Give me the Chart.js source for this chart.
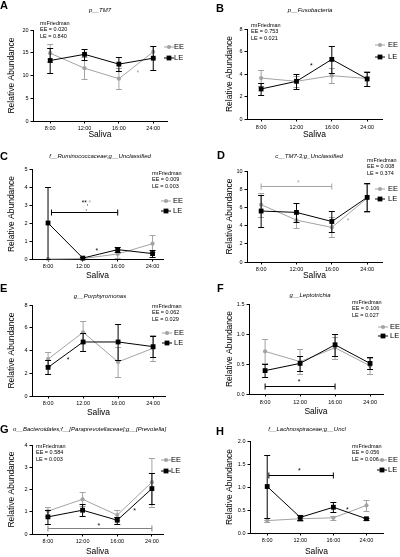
<!DOCTYPE html>
<html>
<head>
<meta charset="utf-8">
<script src="https://cdn.jsdelivr.net/npm/chart.js@4"></script>
<style>
body { margin: 0; background: #fff; width: 400px; height: 557px; overflow: hidden; position: relative; }
canvas { position: absolute; }
</style>
</head>
<body>
<canvas id="cA"></canvas>
<canvas id="cB"></canvas>
<canvas id="cC"></canvas>
<canvas id="cD"></canvas>
<canvas id="cE"></canvas>
<canvas id="cF"></canvas>
<canvas id="cG"></canvas>
<canvas id="cH"></canvas>
<script>
const times = ['8:00', '12:00', '16:00', '24:00'];

// A  p__TM7
const tm7EE = [14.9, 11.6, 9.3, 15.2];
const tm7EEErr = [2.0, 2.4, 2.3, 1.3];
const tm7LE = [13.3, 14.65, 12.5, 13.8];
const tm7LEErr = [2.8, 1.2, 1.6, 2.6];

// B  p__Fusobacteria
const fusoEE = [3.64, 3.35, 3.85, 3.6];
const fusoEEErr = [0.68, 0.5, 0.65, 0.64];
const fusoLE = [2.67, 3.35, 5.3, 3.56];
const fusoLEErr = [0.57, 0.68, 1.2, 0.65];

// C  Ruminococcaceae
const rumiEE = [0, 0.02, 0.28, 0.85];
const rumiEEErr = [0, 0.02, 0.22, 0.46];
const rumiLE = [2.0, 0.05, 0.52, 0.3];
const rumiLEErr = [1.98, 0.04, 0.15, 0.18];

// D  TM7-3
const tm73EE = [6.3, 4.6, 3.8, 7.0];
const tm73EEErr = [1.3, 0.9, 1.1, 1.55];
const tm73LE = [5.6, 5.45, 4.45, 7.1];
const tm73LEErr = [1.8, 1.0, 1.15, 1.55];

// E  Porphyromonas
const porpEE = [3.25, 5.6, 3.0, 4.2];
const porpEEErr = [0.6, 0.95, 1.3, 1.15];
const porpLE = [2.52, 4.75, 4.75, 4.34];
const porpLEErr = [0.62, 0.8, 1.6, 0.93];

// F  Leptotrichia
const leptEE = [0.71, 0.54, 0.77, 0.47];
const leptEEErr = [0.2, 0.21, 0.18, 0.13];
const leptLE = [0.39, 0.51, 0.82, 0.51];
const leptLEErr = [0.11, 0.13, 0.18, 0.1];

// G  Prevotella
const prevEE = [1.03, 1.56, 0.85, 2.33];
const prevEEErr = [0.2, 0.32, 0.23, 1.1];
const prevLE = [0.77, 1.07, 0.62, 2.04];
const prevLEErr = [0.31, 0.27, 0.15, 0.7];

// H  Lachnospiraceae
const lachEE = [0.27, 0.31, 0.33, 0.6];
const lachEEErr = [0.02, 0.04, 0.05, 0.12];
const lachLE = [1.01, 0.34, 0.56, 0.31];
const lachLEErr = [0.69, 0.06, 0.11, 0.02];

const GRAY = '#a3a3a3';
const FONT = 'Arial, "Liberation Sans", sans-serif';
Chart.defaults.font.family = FONT;
Chart.defaults.color = '#000';

const panels = [
  { id: 'cA', letter: 'A', title: 'p__TM7', ee: tm7EE, eeErr: tm7EEErr, le: tm7LE, leErr: tm7LEErr,
    pvals: ['0.020', '0.840'], yMax: 20, yStep: 5,
    box: [0, 0, 200, 140], axisX: 33, yTop: 30, yBot: 121, xEnd: 167, xMin: -0.5, xMax: 3.4, ytPad: 7, tickPad: 1.5,
    stats: [40, 23], legend: [169, 174, 47, 58], titlePos: [100, 10, 'center'], letterPos: [0, 6],
    stars: [[2.55, 11.1, GRAY]], brackets: [] },
  { id: 'cB', letter: 'B', title: 'p__Fusobacteria', ee: fusoEE, eeErr: fusoEEErr, le: fusoLE, leErr: fusoLEErr,
    pvals: ['0.753', '0.021'], yMax: 8, yStep: 2,
    box: [200, 0, 200, 140], axisX: 247, yTop: 29, yBot: 119, xEnd: 382, xMin: -0.4, xMax: 3.42, ytPad: 25, tickPad: 2.5,
    stats: [251, 25], legend: [380, 388, 45, 57], titlePos: [310, 10, 'center'], letterPos: [216, 9],
    stars: [[1.42, 4.9, '#000']], brackets: [] },
  { id: 'cC', letter: 'C', title: 'f__Ruminococcaceae;g__Unclassified', ee: rumiEE, eeErr: rumiEEErr, le: rumiLE, leErr: rumiLEErr,
    pvals: ['0.009', '0.003'], yMax: 5, yStep: 1,
    box: [0, 140, 200, 141], axisX: 32, yTop: 169, yBot: 259, xEnd: 163, xMin: -0.46, xMax: 3.3, ytPad: 7, tickPad: 2,
    stats: [152, 173], legend: [166, 173, 201, 211], titlePos: [100, 156, 'center'], letterPos: [0, 157],
    stars: [[1.4, 0.55, '#000']], brackets: [[0.1, 2.0, 2.6, '#000']], special: true },
  { id: 'cD', letter: 'D', title: 'c__TM7-3;g_Unclassified', ee: tm73EE, eeErr: tm73EEErr, le: tm73LE, leErr: tm73LEErr,
    pvals: ['0.008', '0.374'], yMax: 10, yStep: 2,
    box: [200, 140, 200, 141], axisX: 247, yTop: 171, yBot: 262, xEnd: 382, xMin: -0.4, xMax: 3.42, ytPad: 25, tickPad: 1.5,
    stats: [367, 160], legend: [380, 388, 189, 199], titlePos: [309, 156, 'center'], letterPos: [217, 156],
    stars: [[1.05, 8.9, GRAY], [2.46, 4.7, GRAY]], brackets: [[0, 2, 8.35, GRAY]] },
  { id: 'cE', letter: 'E', title: 'g__Porphyromonas', ee: porpEE, eeErr: porpEEErr, le: porpLE, leErr: porpLEErr,
    pvals: ['0.062', '0.029'], yMax: 8, yStep: 2,
    box: [0, 281, 200, 137], axisX: 32, yTop: 305, yBot: 396, xEnd: 165, xMin: -0.46, xMax: 3.34, ytPad: 7, tickPad: 2,
    stats: [152, 306], legend: [167, 174, 333, 343], titlePos: [100, 296, 'center'], letterPos: [0, 289],
    stars: [[0.57, 3.34, '#000']], brackets: [] },
  { id: 'cF', letter: 'F', title: 'g__Leptotrichia', ee: leptEE, eeErr: leptEEErr, le: leptLE, leErr: leptLEErr,
    pvals: ['0.106', '0.027'], yMax: 1.5, yStep: 0.5, dec: true,
    box: [200, 281, 200, 136], axisX: 249, yTop: 304, yBot: 394, xEnd: 383, xMin: -0.46, xMax: 3.37, ytPad: 25, tickPad: 2.5,
    stats: [352, 302], legend: [383, 390, 327, 336], titlePos: [310, 295, 'center'], letterPos: [217, 289],
    stars: [[0.97, 0.23, '#000']], brackets: [[0, 2, 0.13, '#000']] },
  { id: 'cG', letter: 'G', title: 'o__Bacteroidales;f__[Paraprevotellaceae];g__[Prevotella]', ee: prevEE, eeErr: prevEEErr, le: prevLE, leErr: prevLEErr,
    pvals: ['0.584', '0.003'], yMax: 4, yStep: 1,
    box: [0, 418, 200, 139], axisX: 32, yTop: 445, yBot: 534, xEnd: 163, xMin: -0.46, xMax: 3.32, ytPad: 7, tickPad: 2,
    stats: [36, 446], legend: [166, 171, 460, 471], titlePos: [13, 429, 'left'], letterPos: [0, 430],
    stars: [[1.47, 0.45, '#000'], [2.5, 1.12, '#000']], brackets: [[0, 3, 0.27, '#808080']] },
  { id: 'cH', letter: 'H', title: 'f__Lachnospiraceae;g__Uncl', ee: lachEE, eeErr: lachEEErr, le: lachLE, leErr: lachLEErr,
    pvals: ['0.056', '0.006'], yMax: 2, yStep: 0.5, dec: true,
    box: [200, 418, 200, 139], axisX: 250, yTop: 441, yBot: 533, xEnd: 383, xMin: -0.52, xMax: 3.5, ytPad: 25, tickPad: 2,
    stats: [352, 446], legend: [382, 388, 460, 470], titlePos: [307, 429, 'center'], letterPos: [216, 432],
    stars: [[0.97, 1.39, '#000'], [2.42, 0.54, '#000']], brackets: [[0.05, 2, 1.26, '#000']] }
];

function drawMarker(ctx, style, x, y, color) {
  ctx.fillStyle = color;
  ctx.beginPath();
  if (style === 'rect') ctx.rect(x - 2.4, y - 2.4, 4.8, 4.8);
  else ctx.arc(x, y, 2.1, 0, Math.PI * 2);
  ctx.fill();
}

function star(ctx, x, y, color, size) {
  ctx.fillStyle = color;
  ctx.font = `${size}px ${FONT}`;
  ctx.textAlign = 'center';
  ctx.textBaseline = 'alphabetic';
  ctx.fillText('*', x, y + size * 0.58);
}

// error bars, brackets, stars, legend and labels
function makeExtras(p) {
  const ox = p.box[0], oy = p.box[1];
  return {
    id: 'extras' + p.id,
    beforeDatasetDraw(chart, args) {
      const ds = chart.data.datasets[args.index];
      const ys = chart.scales.y, ctx = chart.ctx;
      ctx.save();
      ctx.strokeStyle = ds.borderColor;
      ctx.lineWidth = 1;
      args.meta.data.forEach((pt, i) => {
        const v = ds.data[i].y, e = ds.err[i];
        if (!e) return;
        const y1 = Math.round(ys.getPixelForValue(v + e)) + 0.5;
        const y0 = Math.round(ys.getPixelForValue(Math.max(0, v - e))) + 0.5;
        ctx.beginPath();
        ctx.moveTo(pt.x, y0); ctx.lineTo(pt.x, y1);
        ctx.moveTo(pt.x - 3, y1); ctx.lineTo(pt.x + 3, y1);
        ctx.moveTo(pt.x - 3, y0); ctx.lineTo(pt.x + 3, y0);
        ctx.stroke();
      });
      ctx.restore();
    },
    afterDraw(chart) {
      const ctx = chart.ctx, xs = chart.scales.x, ys = chart.scales.y;
      ctx.save();
      // brackets
      p.brackets.forEach(([a, b, v, c]) => {
        const x0 = xs.getPixelForValue(a), x1 = xs.getPixelForValue(b);
        const y = Math.round(ys.getPixelForValue(v)) + 0.5;
        ctx.strokeStyle = c; ctx.lineWidth = 1;
        ctx.beginPath();
        ctx.moveTo(x0, y); ctx.lineTo(x1, y);
        ctx.moveTo(x0, y - 3); ctx.lineTo(x0, y + 3);
        ctx.moveTo(x1, y - 3); ctx.lineTo(x1, y + 3);
        ctx.stroke();
      });
      p.stars.forEach(([a, v, c]) => star(ctx, xs.getPixelForValue(a), ys.getPixelForValue(v), c, 7));
      if (p.special) {
        ctx.font = `6.5px ${FONT}`;
        ctx.textBaseline = 'alphabetic';
        ctx.textAlign = 'left';
        const w1 = ctx.measureText('**,').width, w2 = ctx.measureText('*').width;
        const cx = xs.getPixelForValue(1.1), cy = ys.getPixelForValue(3.2) + 4;
        ctx.fillStyle = '#000';
        ctx.fillText('**,', cx - (w1 + w2) / 2, cy);
        ctx.fillStyle = GRAY;
        ctx.fillText('*', cx - (w1 + w2) / 2 + w1, cy);
        ctx.fillStyle = '#000';
        ctx.fillText(',', cx - 1, cy + 5);
      }
      // stats text
      ctx.fillStyle = '#000';
      ctx.font = `5.5px ${FONT}`;
      ctx.textAlign = 'left';
      ctx.textBaseline = 'middle';
      ['rmFriedman', 'EE = ' + p.pvals[0], 'LE = ' + p.pvals[1]].forEach((t, i) => {
        ctx.fillText(t, p.stats[0] - ox, p.stats[1] - oy + i * 6.6);
      });
      // legend
      const [mx, tx, yEE, yLE] = p.legend;
      [[yEE, GRAY, 'circle', 'EE'], [yLE, '#000', 'rect', 'LE']].forEach(([y, c, s, t]) => {
        const yy = y - oy;
        ctx.strokeStyle = c; ctx.lineWidth = 1;
        ctx.beginPath(); ctx.moveTo(mx - ox - 5, yy); ctx.lineTo(mx - ox + 5, yy); ctx.stroke();
        drawMarker(ctx, s, mx - ox, yy, c);
        ctx.fillStyle = '#000';
        ctx.font = `7.5px ${FONT}`;
        ctx.textAlign = 'left';
        ctx.textBaseline = 'middle';
        ctx.fillText(t, tx - ox, yy);
      });
      // title
      ctx.font = `italic 6px ${FONT}`;
      ctx.textAlign = p.titlePos[2];
      ctx.textBaseline = 'middle';
      ctx.fillText(p.title, p.titlePos[0] - ox, p.titlePos[1] - oy);
      // panel letter
      ctx.font = `bold 11px ${FONT}`;
      ctx.textAlign = 'left';
      ctx.fillText(p.letter, p.letterPos[0] - ox, p.letterPos[1] - oy);
      ctx.restore();
    }
  };
}

panels.forEach(p => {
  const [bx, by, bw, bh] = p.box;
  const cv = document.getElementById(p.id);
  cv.width = bw; cv.height = bh;
  cv.style.left = bx + 'px'; cv.style.top = by + 'px';
  const yW = p.axisX - bx;
  const xH = bh - (p.yBot - by);
  const mk = (vals, err, label, color, style, r) => ({
    label, err,
    data: vals.map((v, i) => ({ x: i, y: v })),
    borderColor: color, backgroundColor: color,
    borderWidth: 1, pointStyle: style, pointRadius: r, pointBorderWidth: 0,
    pointBackgroundColor: color, tension: 0, clip: false
  });
  new Chart(cv, {
    type: 'line',
    data: {
      datasets: [
        mk(p.le, p.leErr, 'LE', '#000', 'rect', 3.4),
        mk(p.ee, p.eeErr, 'EE', GRAY, 'circle', 2.1)
      ]
    },
    options: {
      responsive: false,
      animation: false,
      events: [],
      layout: { padding: { left: 0, top: p.yTop - by, right: bx + bw - p.xEnd, bottom: 0 } },
      plugins: { legend: { display: false }, tooltip: { enabled: false } },
      scales: {
        x: {
          type: 'linear', min: p.xMin, max: p.xMax,
          afterBuildTicks: s => { s.ticks = times.map((t, i) => ({ value: i })); },
          afterFit: s => { s.height = xH; },
          ticks: { callback: v => times[v], font: { size: 5.5 }, color: '#000', padding: p.tickPad, autoSkip: false, maxRotation: 0 },
          grid: { drawOnChartArea: false, tickLength: 2.5, color: '#000' },
          border: { color: '#000', width: 1 },
          title: { display: true, text: 'Saliva', font: { size: 8.5 }, color: '#000', padding: { top: 0, bottom: 0 } }
        },
        y: {
          min: 0, max: p.yMax,
          afterFit: s => { s.width = yW; },
          ticks: { stepSize: p.yStep, font: { size: 5.5 }, color: '#000', padding: 2,
                   callback: v => p.dec ? v.toFixed(1) : v },
          grid: { drawOnChartArea: false, tickLength: 2.5, color: '#000' },
          border: { color: '#000', width: 1 },
          title: { display: true, text: 'Relative Abundance', font: { size: 8.5 }, color: '#000', padding: { top: p.ytPad, bottom: 0 } }
        }
      }
    },
    plugins: [makeExtras(p)]
  });
});
</script>
</body>
</html>
